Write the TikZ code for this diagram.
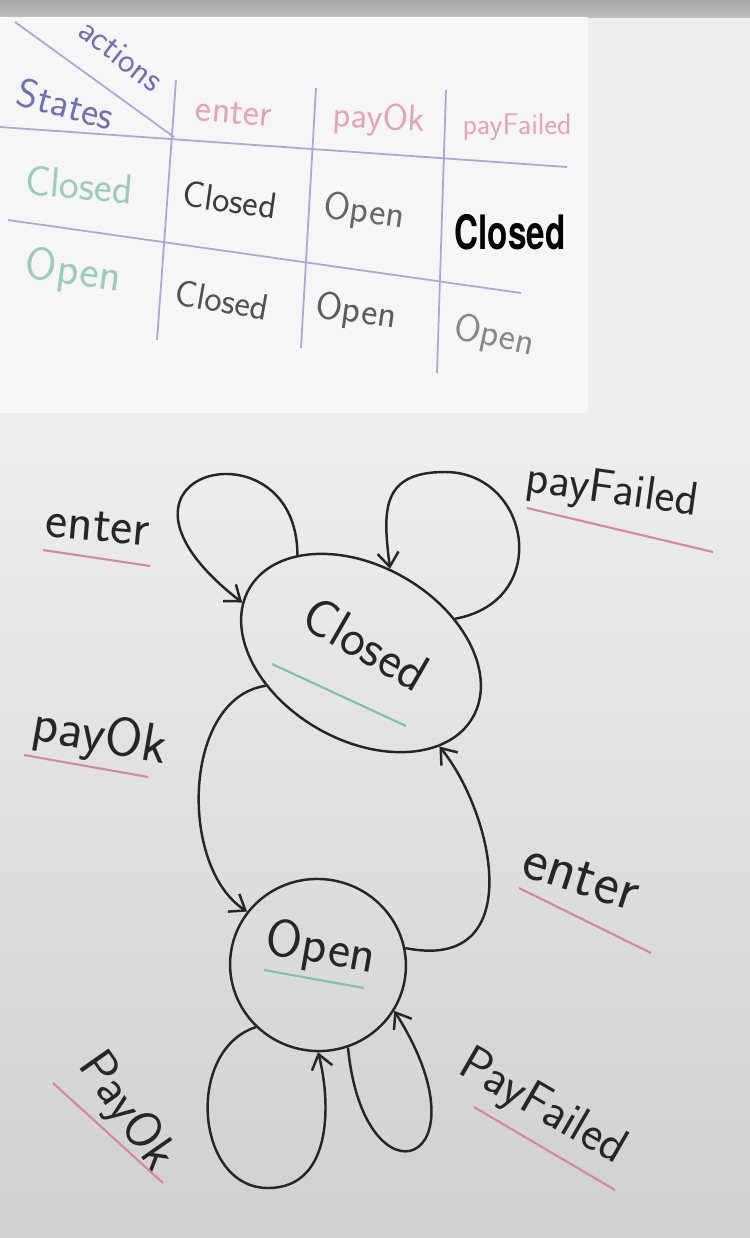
\documentclass[tikz,border=0pt]{standalone}
\usepackage{fontspec}
\newfontfamily\overlayfont{TeX Gyre Heros}
\usetikzlibrary{shapes.geometric, arrows.meta}

\definecolor{ink}{HTML}{262626}
\definecolor{tabline}{HTML}{A9A9D2}
\definecolor{headblue}{HTML}{6F6FB5}
\definecolor{headpink}{HTML}{E3A3B8}
\definecolor{stgreen}{HTML}{9CCABB}
\definecolor{cellgray}{HTML}{4A4A4A}
\definecolor{marker}{HTML}{D9859F}
\definecolor{tealmark}{HTML}{7FBFB0}
\definecolor{panel}{HTML}{F6F6F6}
\definecolor{boardtop}{HTML}{EDEDED}
\definecolor{boardbot}{HTML}{D0D0D0}

\begin{document}
\begin{tikzpicture}[x=0.02cm, y=-0.02cm, >={Straight Barb[length=8pt, width=12pt]},
    tline/.style={draw=tabline, line width=1pt},
    cell/.style={font=\sffamily\fontsize{#1}{#1}\selectfont, text=cellgray},
    state/.style={draw=ink, ellipse, line width=1.4pt, inner sep=0pt, text=ink,
        font=\sffamily\fontsize{30}{30}\selectfont},
    edge/.style={draw=ink, line width=1.4pt, ->},
    lbl/.style={font=\sffamily\fontsize{#1}{#1}\selectfont, text=ink},
    pinkline/.style={draw=marker, line width=1.2pt},
    tealline/.style={draw=tealmark, line width=1.2pt}]
    \useasboundingbox (0, 0) rectangle (750, 1238);

    % background
    \fill[boardtop] (0, 0) rectangle (750, 1238);
    \shade[top color=gray!70, bottom color=gray!50] (0, 0) rectangle (750, 17);
    \fill[panel] (0, 17) rectangle (588, 413);
    \shade[top color=boardtop, bottom color=boardbot] (0, 452) rectangle (750, 1238);

    % table
    \draw[tline] (15, 22) -- (174, 137);
    \draw[tline] (0, 127) -- (567, 167);
    \draw[tline] (8, 220) -- (521, 293);
    \draw[tline] (176, 80) -- (157, 340);
    \draw[tline] (316, 88) -- (301, 348);
    \draw[tline] (446, 90) -- (437, 373);

    \node[cell=20, text=headblue, rotate=-38] (hdAct) at (121, 55) {actions};
    \node[cell=23, text=headblue, rotate=-15] (hdSt) at (66, 104) {States};
    \node[cell=22, text=headpink, rotate=-5] (acEnter) at (234, 113) {enter};
    \node[cell=21, text=headpink, rotate=-3] (acOk) at (379, 120) {payOk};
    \node[cell=17, text=headpink] (acFail) at (517, 127) {payFailed};
    \node[cell=24, text=stgreen, rotate=-5] (stClosed) at (79, 185) {Closed};
    \node[cell=26, text=stgreen, rotate=-8] (stOpen) at (73, 273) {Open};

    \node[cell=21, text=ink!90, rotate=-8] (c11) at (230, 200) {Closed};
    \node[cell=22, text=ink!70, rotate=-8] (c12) at (364, 213) {Open};
    \node[font=\overlayfont\bfseries\fontsize{27}{27}\selectfont, xscale=0.7] (c13) at (510, 232) {Closed};
    \node[cell=21, text=ink!80, rotate=-10] (c21) at (222, 300) {Closed};
    \node[cell=22, text=ink!75, rotate=-8] (c22) at (356, 313) {Open};
    \node[cell=22, text=ink!55, rotate=-12] (c23) at (494, 337) {Open};

    % states
    \node[state, minimum width=5.16cm, minimum height=3.48cm, rotate=-30] (closed) at (361, 653) {\raisebox{6pt}[\height][\depth]{Closed}};
    \node[state, minimum width=3.52cm, minimum height=3.44cm, rotate=-10] (open) at (318, 965) {\raisebox{9pt}[\height][\depth]{Open}};
    \draw[tealline] (272, 664) -- (406, 726);
    \draw[tealline] (264, 970) -- (364, 988);

    % transitions
    \draw[edge] (closed.153) .. controls +(0, -138) and +(-170, -132) .. (closed.187);
    \draw[edge] (closed.50) .. controls +(98, -18) and +(85, 0) .. (445, 472)
        .. controls +(-65, 0) and +(-7, -57) .. (closed.101);
    \draw[edge] (closed.229) .. controls +(-83, 12) and +(-69, -45) .. (open.153);
    \draw[edge] (open.21) .. controls +(123, 25) and +(55, 68) .. (closed.340);
    \draw[edge] (open.235) .. controls +(-71, 23) and +(-73, 0) .. (268, 1188)
        .. controls +(67, 0) and +(12, 45) .. (open.280);
    \draw[edge] (open.300) .. controls +(16, 165) and +(98, 155) .. (open.339);

    % labels
    \node[lbl=30, rotate=-5] (lEnterL) at (98, 527) {enter};
    \node[lbl=27, rotate=-8] (lFailTop) at (612, 492) {payFailed};
    \node[lbl=31, rotate=-10] (lOkMid) at (100, 738) {payOk};
    \node[lbl=34, rotate=-18] (lEnterR) at (581, 878) {enter};
    \node[lbl=29, rotate=-55] (lOkBot) at (126, 1112) {PayOk};
    \node[lbl=28, rotate=-30] (lFailBot) at (542, 1108) {PayFailed};

    \draw[pinkline] (43, 550) -- (150, 566);
    \draw[pinkline] (527, 508) -- (713, 552);
    \draw[pinkline] (24, 755) -- (148, 777);
    \draw[pinkline] (519, 888) -- (651, 953);
    \draw[pinkline] (53, 1083) -- (163, 1183);
    \draw[pinkline] (474, 1107) -- (615, 1190);
\end{tikzpicture}
\end{document}
